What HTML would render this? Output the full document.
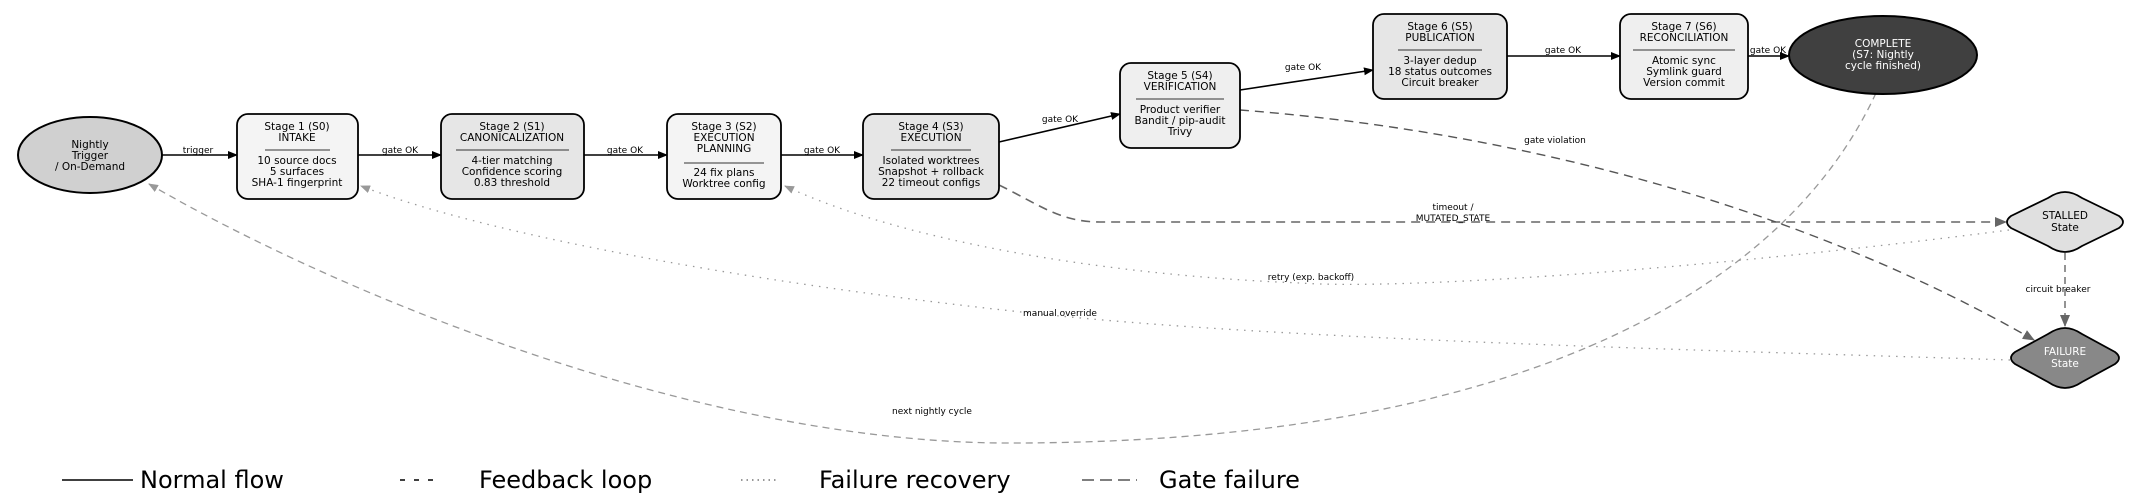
<!DOCTYPE html>
<html><head><meta charset="utf-8"><style>
html,body{margin:0;padding:0;background:#fff;}
svg{display:block;font-family:"DejaVu Sans","Liberation Sans",sans-serif;}
</style></head><body>
<svg width="2148" height="498" viewBox="0 0 2148 498" xmlns="http://www.w3.org/2000/svg">
<defs>
<marker id="ab" markerWidth="10" markerHeight="8" refX="9" refY="4" orient="auto" markerUnits="userSpaceOnUse"><path d="M0,0 L10,4 L0,8z" fill="#000"/></marker>
<marker id="ag" markerWidth="12" markerHeight="10" refX="11" refY="5" orient="auto" markerUnits="userSpaceOnUse"><path d="M0,0 L12,5 L0,10z" fill="#666"/></marker>
<marker id="al" markerWidth="10" markerHeight="8" refX="9" refY="4" orient="auto" markerUnits="userSpaceOnUse"><path d="M0,0 L10,4 L0,8z" fill="#999"/></marker>
</defs>

<!-- curves -->
<path d="M1876,93 C1780,300 1500,445 1000,443 C700,440 350,300 149,184" fill="none" stroke="#999" stroke-width="1.3" stroke-dasharray="7,5" marker-end="url(#al)"/>
<path d="M2010,360 C1700,350 1300,340 1060,316 C800,290 500,240 361,186" fill="none" stroke="#999" stroke-width="1.3" stroke-dasharray="1.5,6" marker-end="url(#al)"/>
<path d="M2009,230 C1700,270 1400,290 1300,283 C1100,275 900,240 785,186" fill="none" stroke="#999" stroke-width="1.3" stroke-dasharray="1.5,6" marker-end="url(#al)"/>
<path d="M999,185 C1040,205 1060,222 1100,222 L2006,222" fill="none" stroke="#666" stroke-width="1.6" stroke-dasharray="9,6" marker-end="url(#ag)"/>
<path d="M1240,110 C1500,130 1790,200 2034,340" fill="none" stroke="#555" stroke-width="1.4" stroke-dasharray="9,6" marker-end="url(#ag)"/>
<path d="M2065,253 L2065,326" fill="none" stroke="#666" stroke-width="1.4" stroke-dasharray="7,5" marker-end="url(#ag)"/>

<!-- normal edges -->
<g stroke="#000" stroke-width="1.6" fill="none">
<line x1="162" y1="155" x2="237" y2="155" marker-end="url(#ab)"/>
<line x1="358" y1="155" x2="441" y2="155" marker-end="url(#ab)"/>
<line x1="584" y1="155" x2="667" y2="155" marker-end="url(#ab)"/>
<line x1="781" y1="155" x2="863" y2="155" marker-end="url(#ab)"/>
<line x1="999" y1="142" x2="1120" y2="114" marker-end="url(#ab)"/>
<line x1="1240" y1="90" x2="1373" y2="70" marker-end="url(#ab)"/>
<line x1="1507" y1="56" x2="1620" y2="56" marker-end="url(#ab)"/>
<line x1="1748" y1="56" x2="1789" y2="56" marker-end="url(#ab)"/>
</g>

<g font-size="9" fill="#000" text-anchor="middle">
<text x="198" y="153">trigger</text>
<text x="400" y="153">gate OK</text>
<text x="625" y="153">gate OK</text>
<text x="822" y="153">gate OK</text>
<text x="1060" y="122">gate OK</text>
<text x="1303" y="70">gate OK</text>
<text x="1563" y="53">gate OK</text>
<text x="1768" y="53">gate OK</text>
<text x="1555" y="143">gate violation</text>
<text x="1453" y="210">timeout /</text>
<text x="1453" y="221">MUTATED_STATE</text>
<text x="1311" y="280">retry (exp. backoff)</text>
<text x="1060" y="316">manual override</text>
<text x="932" y="414">next nightly cycle</text>
<text x="2058" y="292">circuit breaker</text>
</g>

<!-- nodes -->
<ellipse cx="90" cy="155" rx="72" ry="38" fill="#d0d0d0" stroke="#000" stroke-width="2"/>
<g font-size="10.5" text-anchor="middle"><text x="90" y="148">Nightly</text><text x="90" y="159">Trigger</text><text x="90" y="170">/ On-Demand</text></g>

<g stroke="#000" stroke-width="1.8">
<rect x="237" y="114" width="121" height="85" rx="11" fill="#f4f4f4"/>
<rect x="441" y="114" width="143" height="85" rx="11" fill="#e6e6e6"/>
<rect x="667" y="114" width="114" height="85" rx="11" fill="#f4f4f4"/>
<rect x="863" y="114" width="136" height="85" rx="11" fill="#e6e6e6"/>
<rect x="1120" y="63" width="120" height="85" rx="11" fill="#efefef"/>
<rect x="1373" y="14" width="134" height="85" rx="11" fill="#e6e6e6"/>
<rect x="1620" y="14" width="128" height="85" rx="11" fill="#efefef"/>
</g>
<g stroke="#333" stroke-width="1">
<line x1="265" y1="150" x2="330" y2="150"/>
<line x1="456" y1="150" x2="569" y2="150"/>
<line x1="684" y1="163" x2="764" y2="163"/>
<line x1="891" y1="150" x2="971" y2="150"/>
<line x1="1136" y1="99" x2="1224" y2="99"/>
<line x1="1398" y1="50" x2="1482" y2="50"/>
<line x1="1633" y1="50" x2="1735" y2="50"/>
</g>
<g font-size="10.5" text-anchor="middle" fill="#000">
<text x="297" y="130">Stage 1 (S0)</text><text x="297" y="141">INTAKE</text>
<text x="297" y="164">10 source docs</text><text x="297" y="175">5 surfaces</text><text x="297" y="186">SHA-1 fingerprint</text>
<text x="512" y="130">Stage 2 (S1)</text><text x="512" y="141">CANONICALIZATION</text>
<text x="512" y="164">4-tier matching</text><text x="512" y="175">Confidence scoring</text><text x="512" y="186">0.83 threshold</text>
<text x="724" y="130">Stage 3 (S2)</text><text x="724" y="141">EXECUTION</text><text x="724" y="152">PLANNING</text>
<text x="724" y="176">24 fix plans</text><text x="724" y="187">Worktree config</text>
<text x="931" y="130">Stage 4 (S3)</text><text x="931" y="141">EXECUTION</text>
<text x="931" y="164">Isolated worktrees</text><text x="931" y="175">Snapshot + rollback</text><text x="931" y="186">22 timeout configs</text>
<text x="1180" y="79">Stage 5 (S4)</text><text x="1180" y="90">VERIFICATION</text>
<text x="1180" y="113">Product verifier</text><text x="1180" y="124">Bandit / pip-audit</text><text x="1180" y="135">Trivy</text>
<text x="1440" y="30">Stage 6 (S5)</text><text x="1440" y="41">PUBLICATION</text>
<text x="1440" y="64">3-layer dedup</text><text x="1440" y="75">18 status outcomes</text><text x="1440" y="86">Circuit breaker</text>
<text x="1684" y="30">Stage 7 (S6)</text><text x="1684" y="41">RECONCILIATION</text>
<text x="1684" y="64">Atomic sync</text><text x="1684" y="75">Symlink guard</text><text x="1684" y="86">Version commit</text>
</g>

<ellipse cx="1883" cy="55" rx="94" ry="39" fill="#404040" stroke="#000" stroke-width="2"/>
<g font-size="10.5" text-anchor="middle" fill="#fff"><text x="1883" y="47">COMPLETE</text><text x="1883" y="58">(S7: Nightly</text><text x="1883" y="69">cycle finished)</text></g>

<path d="M2065,192 Q2073,192 2082,198 L2119,216 Q2127,222 2119,228 L2082,246 Q2073,252 2065,252 Q2057,252 2048,246 L2011,228 Q2003,222 2011,216 L2048,198 Q2057,192 2065,192z" fill="#e0e0e0" stroke="#000" stroke-width="1.8"/>
<g font-size="10.5" text-anchor="middle"><text x="2065" y="219">STALLED</text><text x="2065" y="231">State</text></g>
<path d="M2065,328 Q2073,328 2082,334 L2115,352 Q2123,358 2115,364 L2082,382 Q2073,388 2065,388 Q2057,388 2048,382 L2015,364 Q2007,358 2015,352 L2048,334 Q2057,328 2065,328z" fill="#888" stroke="#000" stroke-width="1.8"/>
<g font-size="10.5" text-anchor="middle" fill="#fff"><text x="2065" y="355">FAILURE</text><text x="2065" y="367">State</text></g>

<!-- legend -->
<line x1="62" y1="480" x2="133" y2="480" stroke="#000" stroke-width="1.6"/>
<text x="140" y="488" font-size="24">Normal flow</text>
<line x1="400" y1="480" x2="441" y2="480" stroke="#000" stroke-width="1.4" stroke-dasharray="5,9"/>
<text x="479" y="488" font-size="24">Feedback loop</text>
<line x1="741" y1="480" x2="778" y2="480" stroke="#777" stroke-width="1.4" stroke-dasharray="1.5,4"/>
<text x="819" y="488" font-size="24">Failure recovery</text>
<line x1="1082" y1="480" x2="1137" y2="480" stroke="#555" stroke-width="1.6" stroke-dasharray="12,6"/>
<text x="1159" y="488" font-size="24">Gate failure</text>
</svg>
</body></html>
